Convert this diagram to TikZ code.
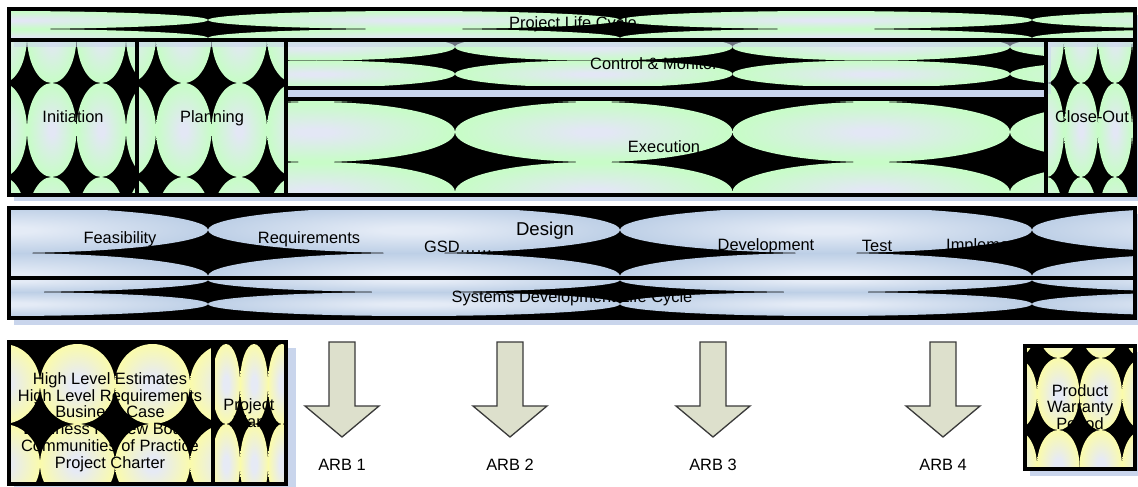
\documentclass[tikz,border=0pt]{standalone}
\usepackage{fontspec}
\setmainfont{Liberation Sans}

\definecolor{gin}{HTML}{E3E7F5}
\definecolor{gout}{HTML}{C8FCC8}
\definecolor{bin}{HTML}{E4EBF6}
\definecolor{bout}{HTML}{B6CAE3}
\definecolor{yin}{HTML}{E6EAF5}
\definecolor{yout}{HTML}{FFFF99}
\definecolor{shadowblue}{HTML}{C9D5EC}
\definecolor{arrowfill}{HTML}{DDE0CC}
\definecolor{arrowline}{HTML}{3A3A3A}

% elliptical lobes: pale centre fading to the box colour
\pgfdeclareradialshading{greenlobe}{\pgfpoint{0bp}{0bp}}{color(0bp)=(gin); color(3bp)=(gin); color(24bp)=(gout); color(50bp)=(gout)}
\pgfdeclareradialshading{bluelobe}{\pgfpoint{0bp}{0bp}}{color(0bp)=(bin); color(4bp)=(bin); color(29bp)=(bout); color(50bp)=(bout)}
\pgfdeclareradialshading{yellowlobe}{\pgfpoint{0bp}{0bp}}{color(0bp)=(yin); color(5bp)=(yin); color(30bp)=(yout); color(50bp)=(yout)}

% #1 box, #2 first column edge, #3 last column index, #4 column width,
% #5 first row edge, #6 last row index, #7 row height, #8 shading
\newcommand\lobes[8]{%
  \begin{scope}
    \clip #1;
    \fill[black] #1;
    \foreach \i in {0,...,#3}{
      \foreach \j in {0,...,#6}{
        \shade[shading=#8] ({#2+#4*(\i+0.5)},{#5+#7*(\j+0.5)})
          ellipse [x radius={#4/2*1pt}, y radius={#7/2*1pt}];
      }
    }
  \end{scope}}

% review-board arrow pointing down, centred on x = #1
\newcommand\arbarrow[1]{%
  \draw[arb] ({#1-13},342) -- ({#1+13},342) -- ({#1+13},406) -- ({#1+37},406)
    -- ({#1},437) -- ({#1-37},406) -- ({#1-13},406) -- cycle;}

\begin{document}
\begin{tikzpicture}[x=1pt,y=-1pt,
  frame/.style={draw=black,line width=3.2pt},
  lbl/.style={inner sep=0pt,font=\fontsize{16.4}{16.8}\selectfont,text=black},
  shadowbox/.style={fill=shadowblue},
  arb/.style={fill=arrowfill,draw=arrowline,line width=1.3pt,line join=miter}]

\useasboundingbox (0,0) rectangle (1138,487);
\fill[white] (0,0) rectangle (1138,487);

% drop shadows
\fill[shadowbox] (14,15) rectangle (1140,46);
\fill[shadowbox] (14,46) rectangle (142,201);
\fill[shadowbox] (142,46) rectangle (291,201);
\fill[shadowbox] (291,46) rectangle (1051,99);
\fill[shadowbox] (291,105) rectangle (1051,201);
\fill[shadowbox] (1051,46) rectangle (1140,201);
\fill[shadowbox] (14,214) rectangle (1140,284);
\fill[shadowbox] (14,284) rectangle (1140,325);
\fill[shadowbox] (14,348) rectangle (218,490);
\fill[shadowbox] (218,348) rectangle (296,490);
\fill[shadowbox] (1030,352) rectangle (1140,476);

% project life cycle
\lobes{(9,9) rectangle (1135,40)}{-204}{3}{412}{-7}{2}{18}{greenlobe}
\lobes{(9,40) rectangle (137,195)}{-22.5}{3}{49.5}{-11}{2}{94}{greenlobe}
\lobes{(137,40) rectangle (286,195)}{100.5}{3}{55.5}{-11}{2}{94}{greenlobe}
\lobes{(286,40) rectangle (1046,88)}{177.5}{3}{277.5}{33.5}{2}{27}{greenlobe}
\lobes{(286,99) rectangle (1046,195)}{177.5}{3}{277.5}{42}{2}{60}{greenlobe}
\lobes{(1046,40) rectangle (1135,195)}{1030}{3}{34}{-11}{2}{94}{greenlobe}

% systems development life cycle
\lobes{(9,208) rectangle (1135,278)}{-204}{3}{412}{161}{2}{46}{bluelobe}
\lobes{(9,278) rectangle (1135,318)}{-204}{3}{412}{268}{2}{24}{bluelobe}

% deliverables
\lobes{(9,342) rectangle (213,484)}{-35}{3}{75}{264}{2}{80}{yellowlobe}
\lobes{(213,342) rectangle (286,484)}{212}{2}{28}{264}{2}{80}{yellowlobe}
\lobes{(1025,346) rectangle (1135,469)}{994.5}{3}{42.5}{286}{2}{72}{yellowlobe}

% shadows falling over the row below
\fill[shadowblue,opacity=0.55] (14,40) rectangle (1135,47);
\fill[shadowblue,opacity=0.55] (1046,47) rectangle (1051,94);

% frames
\draw[frame] (9,9) rectangle (1135,40);
\draw[frame] (9,40) rectangle (137,195);
\draw[frame] (137,40) rectangle (286,195);
\draw[frame] (286,40) rectangle (1046,88);
\draw[frame] (286,99) rectangle (1046,195);
\draw[frame] (1046,40) rectangle (1135,195);
\draw[frame] (9,208) rectangle (1135,278);
\draw[frame] (9,278) rectangle (1135,318);
\draw[frame] (9,342) rectangle (213,484);
\draw[frame] (213,342) rectangle (286,484);
\draw[frame] (1025,346) rectangle (1135,469);

% labels
\node[lbl] (plc) at (573,24) {Project Life Cycle};
\node[lbl] (init) at (73,117) {Initiation};
\node[lbl] (plan) at (212,118) {Planning};
\node[lbl,anchor=west] (ctrl) at (590,64) {Control \& Monitor};
\node[lbl] (exec) at (664,147) {Execution};
\node[lbl] (close) at (1092,117) {Close-Out};
\node[lbl] (feas) at (120,239) {Feasibility};
\node[lbl] (req) at (309,239) {Requirements};
\node[lbl,font=\fontsize{18.6}{20}\selectfont] (design) at (545,231) {Design};
\node[lbl,anchor=west] (gsd) at (424,247) {GSD……};
\node[lbl] (dev) at (766,246) {Development};
\node[lbl] (test) at (877,246) {Test};
\node[lbl,anchor=west] (impl) at (946,246) {Implementation};
\node[lbl] (sdlc) at (572,298) {Systems Development Life Cycle};
\node[lbl,align=center] (deliv) at (110,422) {High Level Estimates\\High Level Requirements\\Business Case\\Business Review Board\\Communities of Practice\\Project Charter};
\node[lbl,align=center] (pplan) at (249,413) {Project\\Plan};
\node[lbl,align=center] (warranty) at (1080,407) {Product\\Warranty\\Period};

% architecture review boards
\arbarrow{342}
\arbarrow{510}
\arbarrow{713}
\arbarrow{943}
\node[lbl] (arb1) at (342,465) {ARB 1};
\node[lbl] (arb2) at (510,465) {ARB 2};
\node[lbl] (arb3) at (713,465) {ARB 3};
\node[lbl] (arb4) at (943,465) {ARB 4};
\end{tikzpicture}
\end{document}
